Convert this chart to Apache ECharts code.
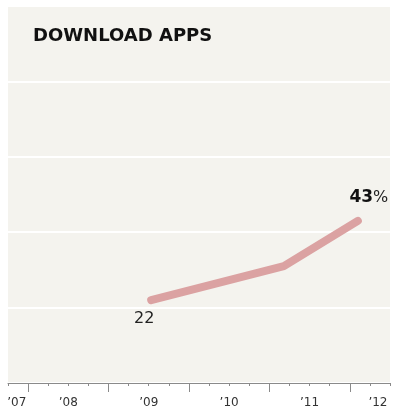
<!DOCTYPE html>
<html><head><meta charset="utf-8">
<script src="https://cdn.jsdelivr.net/npm/echarts@6/dist/echarts.min.js"></script>
<style>html,body{margin:0;padding:0;background:#fff}#c{width:406px;height:413px}</style>
</head><body><div id="c"></div>
<script>
// Data
const title = 'DOWNLOAD APPS';
const pointDates = [2009.53, 2011.18, 2012.1];   // survey dates (fractional years)
const pointValues = [22, 31, 43];               // % who download apps
const yearLabels = ['’07', '’08', '’09', '’10', '’11', '’12'];
const yearLabelAt = [2007.86, 2008.5, 2009.5, 2010.5, 2011.5, 2012.35];
const yearBoundaries = [2008, 2009, 2010, 2011, 2012];
const quarterTicks = [2007.75, 2008.25, 2008.5, 2008.75, 2009.25, 2009.5, 2009.75, 2010.25, 2010.5, 2010.75, 2011.25, 2011.5, 2011.75, 2012.25, 2012.5];
const xMin = 2007.75, xMax = 2012.5;

const FONT = 'DejaVu Sans';
const chart = echarts.init(document.getElementById('c'), null, {renderer: 'canvas'});

const seriesData = pointDates.map((d, i) => {
  const item = {value: [d, pointValues[i]]};
  if (i === 0) {
    item.label = {show: true, position: 'bottom', distance: 10, offset: [-7, 0], formatter: String(pointValues[i]),
      fontFamily: FONT, fontSize: 16, color: '#222'};
  } else if (i === pointDates.length - 1) {
    item.label = {show: true, position: 'top', distance: 10, offset: [11, -4],
      formatter: '{b|' + pointValues[i] + '}{p|%}',
      rich: {b: {fontFamily: FONT, fontSize: 17, fontWeight: 'bold', color: '#111'},
             p: {fontFamily: FONT, fontSize: 16, color: '#222'}}};
  } else {
    item.label = {show: false};
  }
  return item;
});

chart.setOption({
  animation: false,
  backgroundColor: '#ffffff',
  title: {text: title, left: 28, top: 22,
    textStyle: {fontFamily: FONT, fontSize: 18, fontWeight: 'bold', color: '#111'}},
  grid: {left: 8, right: 16, top: 6, bottom: 30, show: true, backgroundColor: '#f4f3ee', borderWidth: 0},
  xAxis: [{
    type: 'value', min: xMin, max: xMax, position: 'bottom',
    axisLine: {show: true, lineStyle: {color: '#8a8a8a', width: 1}},
    axisTick: {show: true, customValues: yearBoundaries, length: 9, lineStyle: {color: '#8a8a8a'}},
    axisLabel: {show: true, customValues: yearLabelAt, margin: 14,
      fontFamily: FONT, fontSize: 12, color: '#333',
      formatter: v => yearLabels[yearLabelAt.indexOf(v)] || ''},
    splitLine: {show: false}
  }, {
    type: 'value', min: xMin, max: xMax, position: 'bottom',
    axisLine: {show: false},
    axisTick: {show: true, customValues: quarterTicks, length: 3, lineStyle: {color: '#8a8a8a'}},
    axisLabel: {show: false},
    splitLine: {show: false}
  }],
  yAxis: {
    type: 'value', min: 0, max: 100, interval: 20,
    axisLine: {show: false}, axisTick: {show: false}, axisLabel: {show: false},
    splitLine: {show: true, lineStyle: {color: '#ffffff', width: 2}}
  },
  series: [{
    type: 'line', xAxisIndex: 0, data: seriesData,
    symbol: 'circle', symbolSize: 1, showSymbol: true,
    itemStyle: {color: '#dba2a2'},
    label: {show: false},
    lineStyle: {color: '#dba2a2', width: 8, cap: 'round', join: 'round'},
    z: 3
  }]
});
</script>
</body></html>
